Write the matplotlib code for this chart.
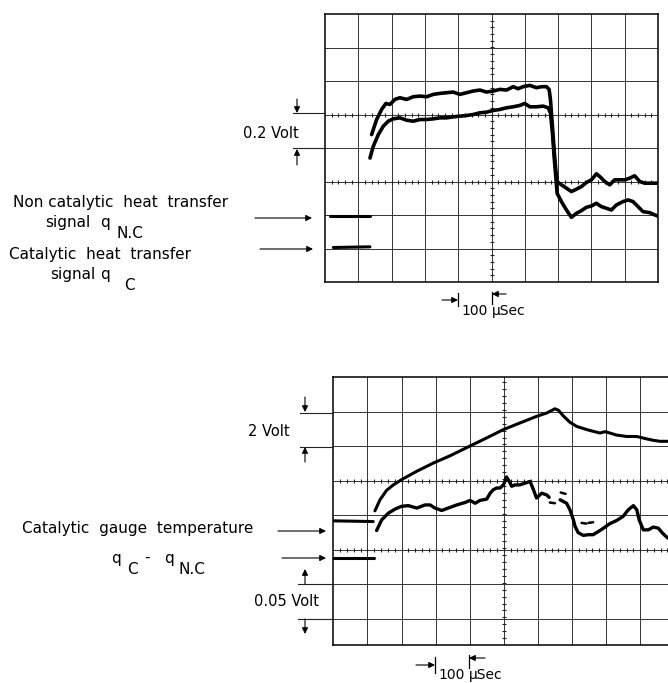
import numpy as np
import matplotlib
matplotlib.use('Agg')
import matplotlib.pyplot as plt

W, H = 668, 683

# upper oscillogram (heat transfer signals), values in screen divisions
top_a_x = [1.40, 1.55, 1.70, 1.83, 1.95, 2.10, 2.25, 2.45, 2.65, 2.85, 3.05, 3.25, 3.45, 3.65,
           3.85, 4.05, 4.25, 4.45, 4.65, 4.85, 5.05, 5.25, 5.45, 5.65, 5.80, 5.95, 6.15, 6.35,
           6.50, 6.65, 6.73, 6.77, 6.83, 6.88, 6.93, 6.97, 7.10, 7.25, 7.40, 7.55, 7.70, 7.85,
           8.00, 8.15, 8.25, 8.40, 8.55, 8.70, 8.85, 9.00, 9.15, 9.30, 9.45, 9.60, 9.75, 9.98]
top_a_y = [4.40, 4.85, 5.15, 5.33, 5.30, 5.45, 5.50, 5.45, 5.53, 5.55, 5.53, 5.60, 5.63, 5.65,
           5.67, 5.60, 5.65, 5.70, 5.73, 5.67, 5.70, 5.75, 5.73, 5.83, 5.77, 5.83, 5.87, 5.80,
           5.83, 5.83, 5.75, 5.45, 4.65, 3.95, 3.35, 3.00, 2.90, 2.80, 2.70, 2.77, 2.85, 2.97,
           3.05, 3.23, 3.15, 3.00, 2.90, 3.05, 3.05, 3.05, 3.10, 3.17, 3.00, 2.95, 2.95, 2.95]

top_b_x = [1.35, 1.45, 1.60, 1.75, 1.90, 2.05, 2.25, 2.45, 2.65, 2.85, 3.05, 3.25, 3.45, 3.65,
           3.85, 4.05, 4.25, 4.45, 4.65, 4.85, 5.05, 5.25, 5.45, 5.65, 5.85, 6.00, 6.15, 6.35,
           6.55, 6.70, 6.77, 6.83, 6.88, 6.93, 6.97, 7.10, 7.25, 7.40, 7.55, 7.70, 7.85, 8.00,
           8.15, 8.30, 8.45, 8.60, 8.75, 8.95, 9.10, 9.25, 9.40, 9.55, 9.75, 9.98]
top_b_y = [3.70, 4.05, 4.40, 4.65, 4.80, 4.87, 4.90, 4.83, 4.80, 4.85, 4.85, 4.87, 4.90, 4.90,
           4.93, 4.95, 4.97, 5.00, 5.05, 5.07, 5.12, 5.15, 5.20, 5.23, 5.27, 5.33, 5.23, 5.23,
           5.25, 5.20, 5.05, 4.45, 3.75, 3.15, 2.65, 2.40, 2.15, 1.93, 2.05, 2.13, 2.23, 2.27,
           2.35, 2.25, 2.20, 2.15, 2.30, 2.40, 2.45, 2.40, 2.25, 2.10, 2.07, 1.97]

base_nc_x, base_nc_y = [0.15, 1.35], [1.97, 1.97]
base_c_x, base_c_y = [0.25, 1.35], [1.03, 1.05]

# lower oscillogram (gauge temperature and difference signal)
temp_x = [1.22, 1.37, 1.56, 1.76, 2.00, 2.44, 2.93, 3.42, 3.96, 4.50, 4.99, 5.47, 5.96, 6.26,
          6.50, 6.60, 6.74, 6.94, 7.14, 7.43, 7.62, 7.82, 7.97, 8.11, 8.31, 8.60, 8.90, 9.19,
          9.38, 9.58, 9.81]
temp_y = [3.13, 3.45, 3.72, 3.88, 4.03, 4.27, 4.51, 4.72, 4.98, 5.24, 5.48, 5.67, 5.86, 5.96,
          6.08, 6.04, 5.88, 5.69, 5.57, 5.48, 5.43, 5.38, 5.42, 5.38, 5.32, 5.28, 5.28, 5.21,
          5.17, 5.14, 5.14]

diff_x = [1.27, 1.42, 1.61, 1.81, 2.00, 2.20, 2.45, 2.69, 2.84, 2.98, 3.18, 3.37, 3.62, 3.86,
          4.01, 4.16, 4.30, 4.50, 4.60, 4.69, 4.79, 4.89, 4.99, 5.08, 5.16, 5.23, 5.33, 5.47,
          5.62, 5.77, 5.87, 5.96, 6.11, 6.26, 6.33]
diff_y = [2.56, 2.87, 3.06, 3.18, 3.26, 3.28, 3.21, 3.30, 3.30, 3.21, 3.14, 3.21, 3.30, 3.37,
          3.43, 3.35, 3.43, 3.47, 3.64, 3.74, 3.79, 3.79, 3.88, 4.11, 3.98, 3.84, 3.88, 3.88,
          3.93, 3.98, 3.74, 3.50, 3.64, 3.59, 3.52]
diff2_x = [6.65, 6.84, 6.94, 7.04, 7.09, 7.18, 7.33, 7.48, 7.62, 7.82, 7.97, 8.11, 8.31, 8.50,
           8.65, 8.80, 8.90, 8.97, 9.09, 9.24, 9.38, 9.53, 9.66, 9.81]
diff2_y = [3.45, 3.35, 3.16, 2.87, 2.68, 2.50, 2.42, 2.44, 2.44, 2.56, 2.66, 2.76, 2.85, 2.97,
           3.16, 3.28, 3.16, 2.87, 2.58, 2.58, 2.66, 2.63, 2.48, 2.34]
dash_x = [[6.35, 6.50], [6.67, 6.81], [7.28, 7.42], [7.48, 7.62]]
dash_y = [[3.37, 3.35], [3.66, 3.62], [2.78, 2.76], [2.78, 2.80]]

base_t_x, base_t_y = [0.0, 1.17], [2.84, 2.82]
base_d_x, base_d_y = [0.0, 1.20], [1.78, 1.78]


def scope(ax, xlim, ylim, ticked_rows):
    ax.set_xlim(*xlim)
    ax.set_ylim(*ylim)
    ax.set_xticks(np.arange(1, 10))
    ax.set_yticks(np.arange(0 if ylim[0] < 0 else 1, int(ylim[1])))
    ax.tick_params(length=0, labelbottom=False, labelleft=False)
    ax.grid(True, color='#333333', lw=0.7)
    for s in ax.spines.values():
        s.set_linewidth(1.1)
    fine_x = np.arange(0.2, 10, 0.2)
    for r in ticked_rows:
        ax.plot(fine_x, np.full_like(fine_x, r), ls='none', marker='|', ms=3.5, mew=0.8, color='#222222')
    fine_y = np.arange(ylim[0] + 0.2, ylim[1], 0.2)
    ax.plot(np.full_like(fine_y, 5), fine_y, ls='none', marker='_', ms=3.5, mew=0.8, color='#222222')


def trace(ax, x, y, lw=2.4, **kw):
    ax.plot(x, y, color='black', lw=lw, solid_capstyle='round', solid_joinstyle='round', **kw)


fig = plt.figure(figsize=(W / 100, H / 100), dpi=100)

top = fig.add_axes([325 / W, 1 - 282 / H, 333 / W, 268 / H])
scope(top, (0, 10), (0, 8), [3, 5])
trace(top, top_a_x, top_a_y, lw=2.6)
trace(top, top_b_x, top_b_y, lw=2.6)
trace(top, base_nc_x, base_nc_y, lw=2.2)
trace(top, base_c_x, base_c_y, lw=2.2)

bot = fig.add_axes([333.3 / W, 1 - 645 / H, 341 / W, 268 / H])
scope(bot, (0, 10), (-0.75, 7), [2, 4])
trace(bot, temp_x, temp_y, lw=2.2)
trace(bot, diff_x, diff_y, lw=2.4)
trace(bot, diff2_x, diff2_y, lw=2.4)
for dx, dy in zip(dash_x, dash_y):
    trace(bot, dx, dy, lw=1.8)
trace(bot, base_t_x, base_t_y, lw=2.2)
trace(bot, base_d_x, base_d_y, lw=2.2)

# annotations drawn in pixel space on a transparent overlay
ov = fig.add_axes([0, 0, 1, 1], zorder=5)
ov.set_xlim(0, W)
ov.set_ylim(H, 0)
ov.axis('off')

fs = 11
fv = 10.5
arrow = dict(arrowstyle='-|>', color='black', lw=0.8, mutation_scale=9, shrinkA=0, shrinkB=0)


def hline(x0, x1, y):
    ov.plot([x0, x1], [y, y], color='#222222', lw=0.8)


def point(x0, y0, x1, y1):
    ov.annotate('', xy=(x1, y1), xytext=(x0, y0), arrowprops=arrow)


def label(x, y, s, size=fs):
    ov.text(x, y, s, fontsize=size, va='center', ha='left')


# upper chart labels
label(13, 202, 'Non catalytic  heat  transfer')
label(45, 223, 'signal')
label(100, 222, 'q')
label(117, 233, 'N.C')
label(9, 255, 'Catalytic  heat  transfer')
label(50, 275, 'signal')
label(100, 274, 'q')
label(124, 285, 'C')
point(255, 218, 312, 218)
point(260, 249, 313, 249)

label(243, 133, '0.2 Volt', fv)
hline(293, 325, 113)
hline(293, 325, 148)
point(297, 99, 297, 113)
point(297, 165, 297, 149)

label(461, 311, '100', 10)
label(492, 311, 'µSec', 10)
ov.plot([458, 458], [293, 306], color='black', lw=0.9)
ov.plot([492, 492], [292, 304], color='black', lw=0.9)
point(442, 300, 458, 300)
point(506, 294, 492, 294)

# lower chart labels
label(22, 528, 'Catalytic  gauge  temperature')
point(278, 531, 326, 531)
label(111, 558, 'q')
label(127, 570, 'C')
label(144, 557, '-')
label(164, 558, 'q')
label(179, 570, 'N.C')
point(282, 558, 326, 558)

label(248, 432, '2 Volt', fv)
hline(300, 333, 412.7)
hline(300, 333, 446.7)
point(305, 397, 305, 412)
point(305, 462, 305, 447)

label(254, 602, '0.05 Volt', fv)
hline(298, 333, 584)
hline(298, 333, 619)
point(305, 584, 305, 569)
point(305, 619, 305, 634)

label(438, 675, '100', 10)
label(469, 675, 'µSec', 10)
ov.plot([435, 435], [657, 673], color='black', lw=0.9)
ov.plot([469, 469], [655, 668], color='black', lw=0.9)
point(416, 665, 435, 665)
point(485, 658, 469, 658)

fig.savefig('out.png', dpi=100)
